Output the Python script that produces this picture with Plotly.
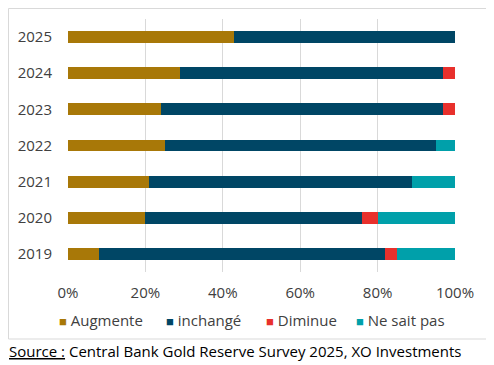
import plotly.graph_objects as go

years = ["2019", "2020", "2021", "2022", "2023", "2024", "2025"]
augmente = [8, 20, 21, 25, 24, 29, 43]
inchange = [74, 56, 68, 70, 73, 68, 57]
diminue = [3, 4, 0, 0, 3, 3, 0]
ne_sait_pas = [15, 20, 11, 5, 0, 0, 0]

series = [
    ("Augmente", augmente, "#A87808"),
    ("inchangé", inchange, "#004665"),
    ("Diminue", diminue, "#E8302C"),
    ("Ne sait pas", ne_sait_pas, "#00A0AA"),
]
legend_widths = [62, 55, 45, 95]

FONT = "Open Sans"
W, H = 486, 357
L, R, T, B = 60, 39, 11, 93
PW, PH = W - L - R, H - T - B

fig = go.Figure()
for name, vals, col in series:
    fig.add_trace(go.Bar(
        y=years, x=vals, name=name, orientation="h",
        marker=dict(color=col, line=dict(width=0)),
        width=0.33, showlegend=False,
    ))
for (name, vals, col), lw in zip(series, legend_widths):
    fig.add_trace(go.Scatter(
        x=[None], y=[None], mode="markers",
        name=f"<span style='color:{col};font-size:13px'>■</span> {name}",
        marker=dict(symbol="square", size=1, color="rgba(0,0,0,0)"),
        showlegend=True, hoverinfo="skip", legendwidth=lw,
    ))

fig.update_layout(
    barmode="stack",
    width=W, height=H,
    margin=dict(l=L, r=R, t=T, b=B, autoexpand=False),
    paper_bgcolor="white", plot_bgcolor="white",
    font=dict(family=FONT, size=15, color="#404040"),
    xaxis=dict(
        range=[0, 100], tickvals=[0, 20, 40, 60, 80, 100],
        ticktext=["0%", "20%", "40%", "60%", "80%", "100%"],
        showgrid=True, gridcolor="#D9D9D9", gridwidth=1,
        zeroline=False, showline=False, ticks="", ticklen=0,
        ticklabelstandoff=10,
        tickfont=dict(size=15, color="#404040"),
        fixedrange=True, automargin=False,
    ),
    yaxis=dict(
        type="category", categoryorder="array", categoryarray=years,
        showgrid=False, zeroline=False, showline=False, ticks="",
        ticklabelstandoff=15, automargin=False,
        tickfont=dict(size=15, color="#404040"),
    ),
    legend=dict(
        orientation="h", xref="paper", x=(11 - L) / PW, xanchor="left",
        yref="paper", y=(H - B - 312) / PH, yanchor="middle",
        font=dict(size=15, color="#404040"), traceorder="normal",
        itemwidth=30, tracegroupgap=0, bgcolor="rgba(0,0,0,0)",
    ),
    shapes=[dict(
        type="rect", xref="paper", yref="paper",
        x0=(0.5 - L) / PW, x1=(480.5 - L) / PW,
        y0=(H - B - 331) / PH, y1=(H - B - 0.5) / PH,
        line=dict(color="#D9D9D9", width=1), layer="below",
    )],
    annotations=[dict(
        xref="paper", yref="paper", x=(-1 - L) / PW, y=(H - B - 343) / PH,
        xanchor="left", yanchor="middle", showarrow=False,
        text="<u>Source :</u> Central Bank Gold Reserve Survey 2025, XO Investments",
        font=dict(family=FONT, size=15, color="#000000"),
    )],
)

fig.write_html("out.html")
